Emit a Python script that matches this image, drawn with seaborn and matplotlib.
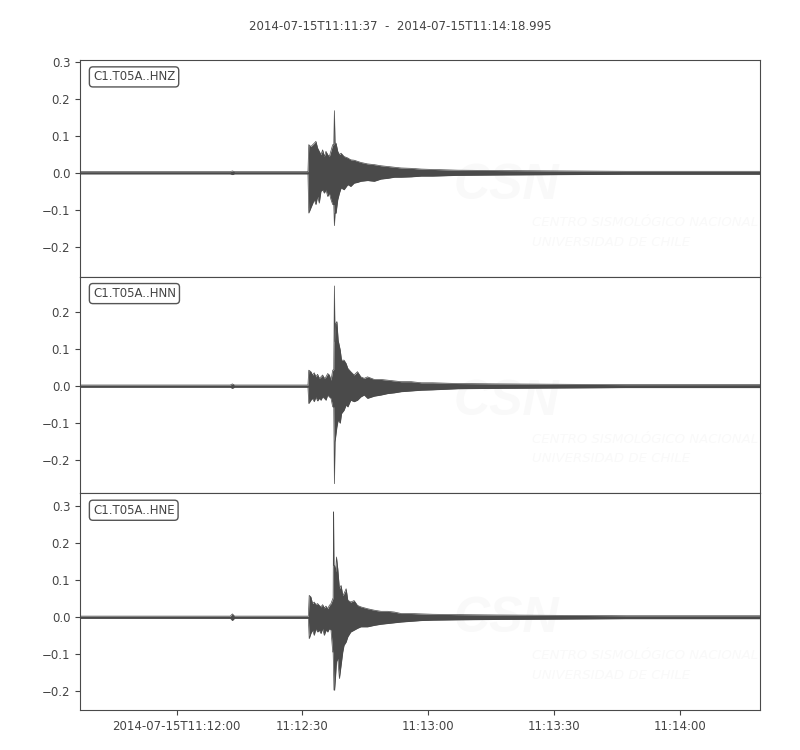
import numpy as np
import pandas as pd
import matplotlib
matplotlib.use('Agg')
import matplotlib.pyplot as plt
from matplotlib.ticker import MultipleLocator, FixedLocator, FixedFormatter
import seaborn as sns

start = pd.Timestamp('2014-07-15T11:11:37')
end = pd.Timestamp('2014-07-15T11:14:18.995')
title = '2014-07-15T11:11:37  -  2014-07-15T11:14:18.995'

channels = ['C1.T05A..HNZ', 'C1.T05A..HNN', 'C1.T05A..HNE']

# envelope of each trace: seconds after start, max, min
t_hnz = [0, 20, 35.8, 36.3, 36.8, 50, 54.3,
         54.5, 55.0, 55.8, 56.2, 56.6, 57.0, 57.4, 57.8, 58.2, 58.6, 59.0, 59.4, 59.8, 60.2,
         60.45, 60.6, 60.75,
         61.0, 61.4, 61.8, 62.2, 62.9, 63.8, 64.5, 65.3, 66.1, 66.9,
         68.5, 70.1, 71.7, 73.3, 74.9, 76.5, 78.9, 81.3,
         84, 90, 100, 115, 130, 145, 162]
up_hnz = [0.003, 0.003, 0.003, 0.005, 0.003, 0.003, 0.003,
          0.076, 0.071, 0.080, 0.085, 0.067, 0.058, 0.049, 0.062, 0.044, 0.058, 0.049, 0.044, 0.060, 0.076,
          0.076, 0.168, 0.080,
          0.080, 0.058, 0.049, 0.053, 0.044, 0.040, 0.035, 0.034, 0.031, 0.028,
          0.024, 0.022, 0.019, 0.017, 0.015, 0.013, 0.012, 0.010,
          0.009, 0.007, 0.006, 0.005, 0.004, 0.004, 0.004]
lo_hnz = [-0.003, -0.003, -0.003, -0.005, -0.003, -0.003, -0.003,
          -0.109, -0.095, -0.073, -0.086, -0.064, -0.082, -0.050, -0.046, -0.055, -0.046, -0.064, -0.055, -0.073, -0.086,
          -0.086, -0.143, -0.109,
          -0.109, -0.073, -0.055, -0.041, -0.046, -0.032, -0.037, -0.028, -0.026, -0.023,
          -0.021, -0.023, -0.017, -0.015, -0.012, -0.012, -0.011, -0.009,
          -0.009, -0.007, -0.006, -0.005, -0.004, -0.004, -0.004]

t_hnn = [0, 20, 35.8, 36.3, 36.8, 50, 54.3,
         54.5, 55.0, 55.4, 55.8, 56.2, 56.6, 57.0, 57.4, 57.8, 58.2, 58.6, 59.0, 59.4, 59.8, 60.2,
         60.45, 60.6, 60.75,
         60.9, 61.2, 61.5, 62.0, 62.3, 62.9, 63.4, 63.8, 64.5, 65.3, 66.1, 66.9, 67.7, 68.5,
         70.1, 71.7, 73.3, 74.9, 76.5, 78.9, 81.3,
         84, 90, 100, 115, 130, 145, 162]
up_hnn = [0.003, 0.003, 0.003, 0.006, 0.003, 0.003, 0.003,
          0.043, 0.039, 0.030, 0.036, 0.025, 0.032, 0.021, 0.025, 0.030, 0.021, 0.025, 0.034, 0.030, 0.016, 0.043,
          0.045, 0.270, 0.120,
          0.169, 0.174, 0.124, 0.097, 0.070, 0.070, 0.061, 0.048, 0.039, 0.030, 0.039, 0.025, 0.021, 0.025,
          0.018, 0.018, 0.016, 0.014, 0.012, 0.012, 0.009,
          0.009, 0.007, 0.006, 0.005, 0.004, 0.004, 0.004]
lo_hnn = [-0.003, -0.003, -0.003, -0.006, -0.003, -0.003, -0.003,
          -0.047, -0.038, -0.033, -0.042, -0.029, -0.040, -0.033, -0.038, -0.029, -0.033, -0.038, -0.024, -0.029, -0.033, -0.056,
          -0.056, -0.263, -0.150,
          -0.137, -0.110, -0.092, -0.100, -0.074, -0.065, -0.051, -0.056, -0.038, -0.042, -0.038, -0.029, -0.024, -0.033,
          -0.027, -0.024, -0.020, -0.018, -0.015, -0.013, -0.011,
          -0.010, -0.007, -0.006, -0.005, -0.004, -0.004, -0.004]

t_hne = [0, 20, 35.8, 36.3, 36.8, 50, 54.4,
         54.6, 55.0, 55.4, 55.8, 56.2, 56.6, 57.0, 57.4, 57.8, 58.2, 58.6, 59.0, 59.4, 59.8, 60.2,
         60.3, 60.4, 60.5,
         60.65, 60.9, 61.1, 61.4, 61.8, 62.2, 62.6, 62.9, 63.4, 63.8, 64.5, 65.3, 66.1, 66.9,
         68.5, 70.1, 71.7, 73.3, 74.9, 76.5, 78.9, 81.3,
         84, 90, 100, 115, 130, 145, 162]
up_hne = [0.003, 0.003, 0.003, 0.009, 0.003, 0.003, 0.003,
          0.059, 0.055, 0.037, 0.041, 0.034, 0.037, 0.032, 0.028, 0.034, 0.025, 0.030, 0.023, 0.032, 0.037, 0.050,
          0.050, 0.285, 0.140,
          0.140, 0.123, 0.163, 0.132, 0.077, 0.086, 0.059, 0.064, 0.077, 0.046, 0.041, 0.045, 0.032, 0.028,
          0.023, 0.019, 0.016, 0.016, 0.014, 0.010, 0.010, 0.009,
          0.008, 0.007, 0.006, 0.005, 0.004, 0.004, 0.004]
lo_hne = [-0.003, -0.003, -0.003, -0.009, -0.003, -0.003, -0.003,
          -0.058, -0.044, -0.035, -0.049, -0.031, -0.040, -0.035, -0.044, -0.031, -0.049, -0.035, -0.040, -0.031, -0.035, -0.094,
          -0.094, -0.139, -0.197,
          -0.197, -0.157, -0.120, -0.112, -0.166, -0.130, -0.094, -0.076, -0.067, -0.053, -0.040, -0.035, -0.030, -0.026,
          -0.026, -0.022, -0.019, -0.017, -0.015, -0.013, -0.011, -0.009,
          -0.008, -0.007, -0.006, -0.005, -0.004, -0.004, -0.004]

ylims = [(-0.281, 0.305), (-0.289, 0.295), (-0.251, 0.335)]

tick_times = ['2014-07-15T11:12:00', '2014-07-15T11:12:30', '2014-07-15T11:13:00',
              '2014-07-15T11:13:30', '2014-07-15T11:14:00']
tick_labels = ['2014-07-15T11:12:00', '11:12:30', '11:13:00', '11:13:30', '11:14:00']

traces = [(t_hnz, up_hnz, lo_hnz), (t_hnn, up_hnn, lo_hnn), (t_hne, up_hne, lo_hne)]

sns.set_style('ticks')
plt.rcParams['font.family'] = ['DejaVu Sans']
txt = '#444444'
wave = '#4a4a4a'
mark = '#f9f9f9'
plt.rcParams.update({'xtick.color': txt, 'ytick.color': txt, 'axes.edgecolor': '#4a4a4a',
                     'xtick.labelsize': 8.5, 'ytick.labelsize': 8.5})

fig, axes = plt.subplots(3, 1, figsize=(8, 7.5), dpi=100, sharex=True)
fig.subplots_adjust(left=0.1, right=0.95, top=0.92, bottom=0.0533, hspace=0)

for ax, name, (t, up, lo), yl in zip(axes, channels, traces, ylims):
    times = start + pd.to_timedelta(t, unit='s')
    df = pd.DataFrame({'time': times, 'up': up, 'lo': lo})

    # faint CSN watermark
    ax.text(0.55, 0.42, 'CSN', transform=ax.transAxes, fontsize=36, fontweight='bold',
            fontstyle='italic', color=mark, va='center', ha='left', zorder=0,
            family='Liberation Sans')
    ax.text(0.665, 0.25, 'CENTRO SISMOLÓGICO NACIONAL', transform=ax.transAxes, fontsize=9.5,
            fontstyle='italic', color=mark, va='center', ha='left', zorder=0)
    ax.text(0.665, 0.16, 'UNIVERSIDAD DE CHILE', transform=ax.transAxes, fontsize=9.5,
            fontstyle='italic', color=mark, va='center', ha='left', zorder=0)

    ax.fill_between(df['time'], df['lo'], df['up'], color=wave, linewidth=0, zorder=2)
    sns.lineplot(data=df, x='time', y='up', ax=ax, color=wave, linewidth=0.5, zorder=3)
    sns.lineplot(data=df, x='time', y='lo', ax=ax, color=wave, linewidth=0.5, zorder=3)

    ax.set_xlim(start, end)
    ax.set_ylim(*yl)
    ax.yaxis.set_major_locator(MultipleLocator(0.1))
    ax.set_xlabel('')
    ax.set_ylabel('')
    for s in ax.spines.values():
        s.set_visible(True)
        s.set_color('#4a4a4a')
    ax.text(0.019, 0.922, name, transform=ax.transAxes, fontsize=8.5, color=txt,
            va='center', ha='left',
            bbox=dict(boxstyle='round,pad=0.3', fc='white', ec='#555555', lw=1))
    ax.tick_params(axis='x', length=0 if ax is not axes[-1] else 3.5)

axes[-1].xaxis.set_major_locator(FixedLocator(
    [matplotlib.dates.date2num(pd.Timestamp(s)) for s in tick_times]))
axes[-1].xaxis.set_major_formatter(FixedFormatter(tick_labels))

fig.suptitle(title, y=0.973, fontsize=8.5, color=txt)
fig.savefig('out.png', dpi=100)
